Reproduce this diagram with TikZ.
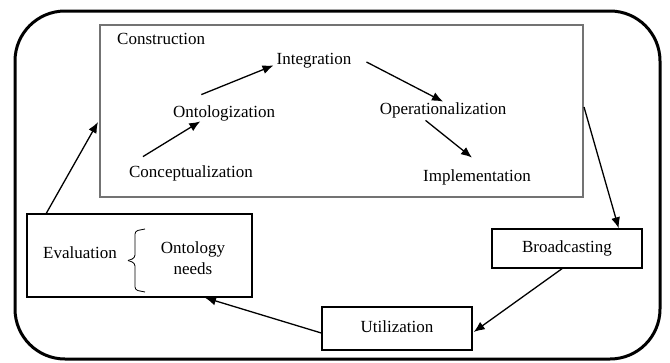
\documentclass[tikz,border=0pt]{standalone}
\usepackage{fontspec}
\setmainfont{Liberation Serif}
\usetikzlibrary{arrows.meta}
\begin{document}
\begin{tikzpicture}[x=1pt,y=-1pt,
  lbl/.style={inner sep=2pt,text height=11.8pt,text depth=3.6pt,
    font=\fontsize{17}{21.5}\selectfont},
  box/.style={draw,line width=1.4pt,inner sep=0pt},
  flow/.style={line width=1.3pt,-{Latex[length=11pt,width=9pt]}}]
\useasboundingbox (0,0) rectangle (670,362);
% outer frame
\draw[line width=3pt,rounded corners=50pt] (15,11) rectangle (660,359);
% construction area
\node[draw=black!55,line width=2pt,minimum width=483pt,minimum height=172pt,inner sep=0pt]
  (constr) at (341.5,111) {};
\node[lbl,anchor=west] (constrlbl) at (115,40) {Construction};
\node[lbl] (integ) at (314,60) {Integration};
\node[lbl] (onto) at (224,113) {Ontologization};
\node[lbl] (concept) at (191,173) {Conceptualization};
\node[lbl] (oper) at (443,110) {Operationalization};
\node[lbl] (impl) at (477,177) {Implementation};
% cycle boxes
\node[box,minimum width=225pt,minimum height=83pt] (eval) at (139.5,255.5) {};
\node[lbl] (evaltxt) at (80,254) {Evaluation};
\node[lbl,align=center,text height=,text depth=] (needs) at (193,258) {Ontology\\needs};
\node[box,lbl,minimum width=150pt,minimum height=39pt] (broad) at (567,248.5) {Broadcasting};
\node[box,lbl,minimum width=150pt,minimum height=43pt] (util) at (397,328.5) {Utilization};
% brace between evaluation and needs
\draw[line width=0.8pt,rounded corners=3pt]
  ([shift={(-48,-29)}]needs.center) -- ([shift={(-58,-27)}]needs.center)
  -- ([shift={(-58,0)}]needs.center) -- ([shift={(-65,2.5)}]needs.center);
\draw[line width=0.8pt,rounded corners=3pt]
  ([shift={(-65,2.5)}]needs.center) -- ([shift={(-58,5)}]needs.center)
  -- ([shift={(-58,32)}]needs.center) -- ([shift={(-48,34)}]needs.center);
% construction steps
\draw[flow] ([shift={(16,-6.5)}]concept.north west) -- ([shift={(29.5,-1.5)}]onto.south west);
\draw[flow] ([shift={(30.5,-8.5)}]onto.north west) -- ([shift={(-1,-4.5)}]integ.south west);
\draw[flow] ([shift={(13,2)}]integ.east) -- ([shift={(0,1.5)}]oper.north);
\draw[flow] ([shift={(48,0.5)}]oper.south west) -- ([shift={(-5,-9.5)}]impl.north);
% life cycle
\draw[flow] ([shift={(0,-4)}]constr.east) -- ([shift={(-24,0)}]broad.north east);
\draw[flow] ([shift={(-5,0)}]broad.south) -- ([shift={(1,3.5)}]util.west -| util.east);
\draw[flow] ([shift={(0,4.5)}]util.west) -- ([shift={(65.5,0)}]eval.south);
\draw[flow] ([shift={(20,0)}]eval.north west) -- ([shift={(-1,11)}]constr.west);
\end{tikzpicture}
\end{document}
